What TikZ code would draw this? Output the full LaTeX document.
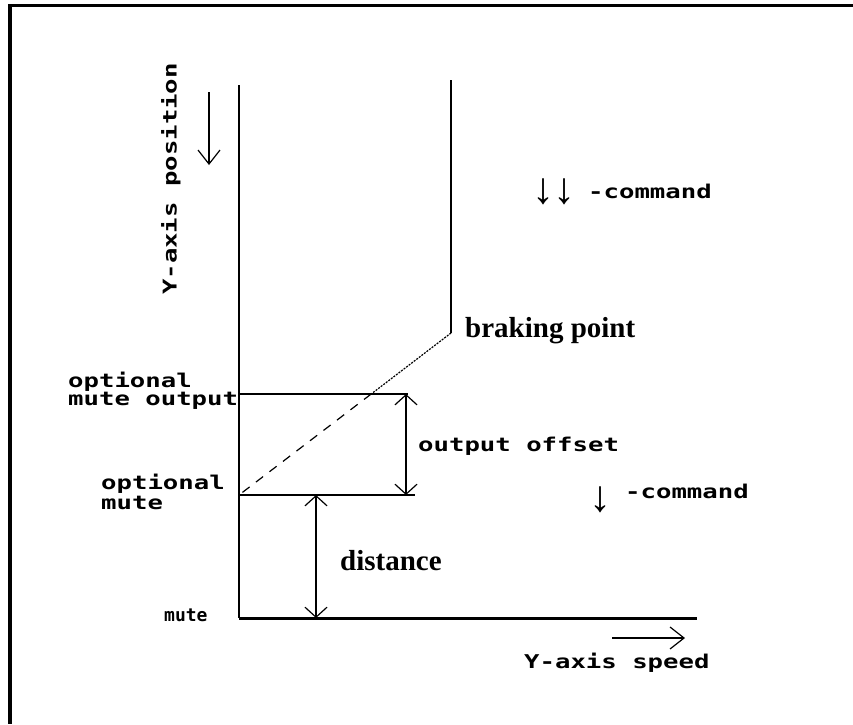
\documentclass[tikz,border=0pt]{standalone}
\usepackage{fontspec}
\usetikzlibrary{arrows.meta,calc}
% wide bold monospace used for most labels
\newfontfamily\widemono[FakeStretch=1.35]{DejaVu Sans Mono}
\newfontfamily\plainmono{DejaVu Sans Mono}
\newfontfamily\symfont{Liberation Sans}
\newfontfamily\boldserif{Liberation Serif}
\tikzset{
  axisline/.style={line width=1.4pt},
  baseaxis/.style={line width=3pt},
  frameline/.style={line width=3.5pt},
  dimarrow/.style={line width=1.4pt,{Straight Barb[length=10pt,width=22pt,line width=1.2pt]}-{Straight Barb[length=10pt,width=22pt,line width=1.2pt]}},
  dirarrow/.style={line width=1.4pt,-{Straight Barb[length=14pt,width=22pt,line width=1.2pt]}},
  monolabel/.style={inner sep=0pt,anchor=base west,font=\widemono\bfseries\fontsize{19}{19}\selectfont},
  seriflabel/.style={inner sep=0pt,anchor=base west,font=\boldserif\bfseries\fontsize{29}{29}\selectfont},
  arrowglyph/.style={inner sep=0pt,anchor=base west,font=\symfont\fontsize{44}{44}\selectfont},
}
\begin{document}
\begin{tikzpicture}[x=1pt,y=-1pt]
\useasboundingbox (0,0) rectangle (853,724);
% outer frame (top and left edges)
\draw[frameline] (853,5.5) -- (10,5.5) -- (10,724);

% key points of the diagram
\coordinate (axtop) at (239,85);
\coordinate (origin) at (239,618);
\coordinate (axend) at (697,618);
\coordinate (brtop) at (451,80);
\coordinate (brake) at (451,333);
\coordinate (omo) at (239,394);
\coordinate (omoend) at (408,394);
\coordinate (om) at (239,495);
\coordinate (omend) at (415,495);
\coordinate (cross) at ($(brake)!{61/162}!(om)$);

% axes
\draw[axisline] (axtop) -- (origin);
\draw[baseaxis] (origin) -- (axend);

% braking curve
\draw[axisline] (brtop) -- (brake);
\draw[line width=1.2pt,dash pattern=on 2pt off 1.2pt] (brake) -- (cross);
\draw[line width=1.2pt,dash pattern=on 9pt off 8pt] (cross) -- (om);

% mute levels
\draw[axisline] (omo) -- (omoend);
\draw[axisline] (om) -- (omend);

% dimension arrows
\coordinate (oo1) at (406,394);
\coordinate (oo2) at (406,495);
\draw[dimarrow] (oo1) -- (oo2);
\coordinate (di1) at (316,495);
\coordinate (di2) at (316,618);
\draw[dimarrow] (di1) -- (di2);

% axis direction arrows
\coordinate (yp1) at (209,92);
\coordinate (yp2) at (209,165);
\draw[dirarrow] (yp1) -- (yp2);
\coordinate (ys1) at (612,638);
\coordinate (ys2) at (685,638);
\draw[dirarrow] (ys1) -- (ys2);

% labels
\node[monolabel,anchor=center,rotate=90] (ypos) at (171,179) {Y-axis position};
\node[monolabel] (speed) at (524,668) {Y-axis speed};
\node[monolabel] (opt1) at (68,387) {optional};
\node[monolabel] (mout) at (68,405) {mute output};
\node[monolabel] (opt2) at (101,489) {optional};
\node[monolabel] (mute2) at (101,509) {mute};
\node[inner sep=0pt,anchor=base west,font=\plainmono\bfseries\fontsize{18}{18}\selectfont] (mute) at (164,621) {mute};
\node[monolabel] (offset) at (418,451) {output offset};
\node[seriflabel] (brk) at (465,337) {braking point};
\node[seriflabel] (dist) at (340,570) {distance};
\node[arrowglyph] (dd) at (532,203) {↓\kern-1pt↓};
\node[monolabel] (cmd1) at (588,198) {-command};
\node[arrowglyph] (d1) at (589,511) {↓};
\node[monolabel] (cmd2) at (625,498) {-command};
\end{tikzpicture}
\end{document}
